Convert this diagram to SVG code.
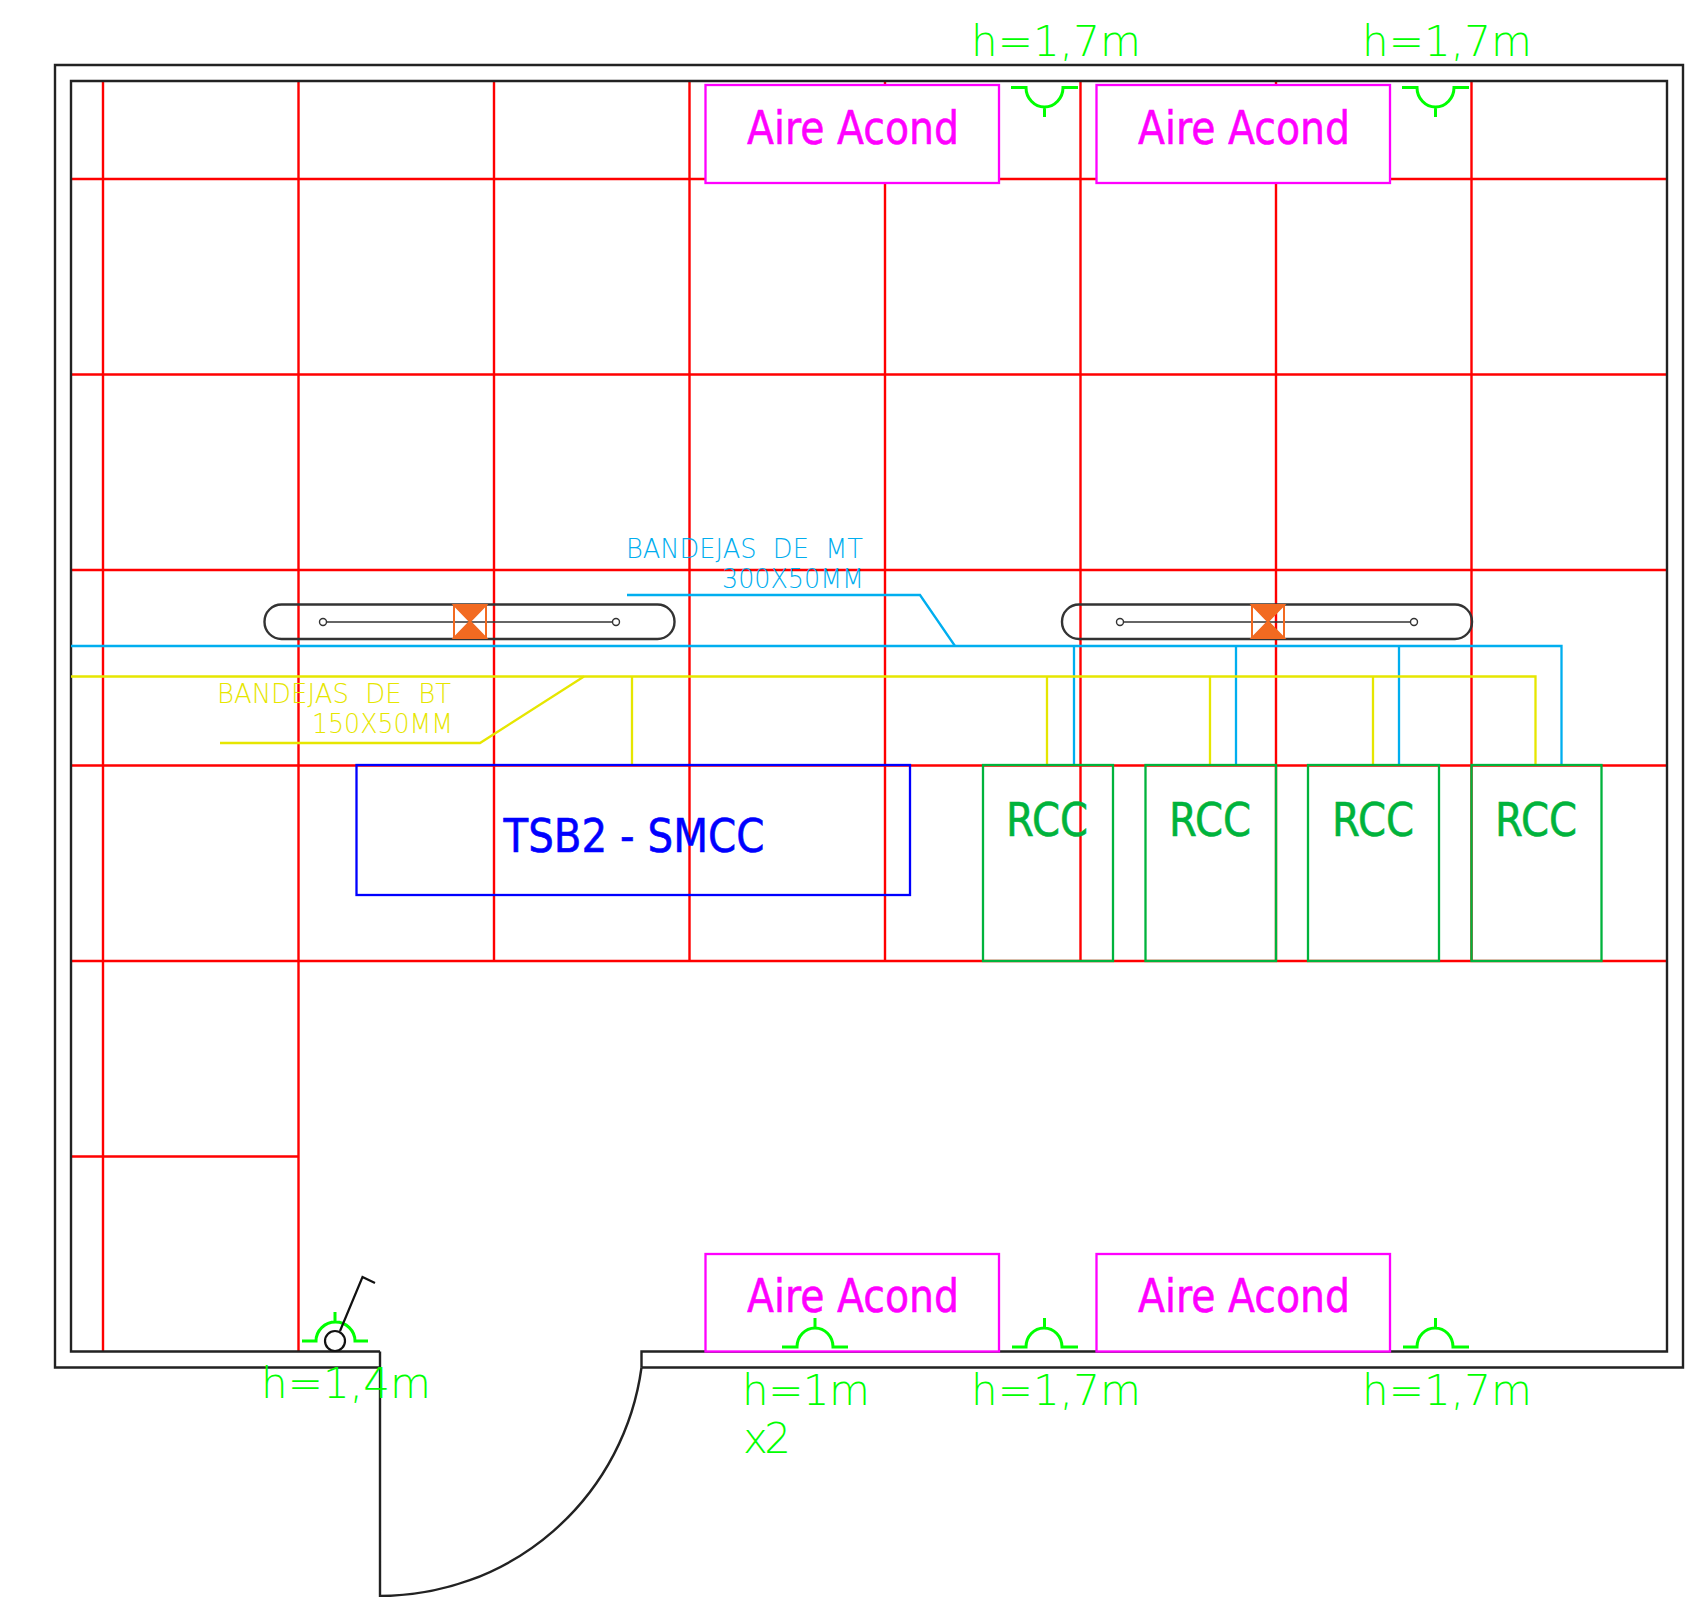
<svg xmlns="http://www.w3.org/2000/svg" width="1699" height="1597" viewBox="0 0 1699 1597">
<style>
.wall{fill:none;stroke:#222;stroke-width:2.4}
.grid{fill:none;stroke:#ff0000;stroke-width:2.4}
.mt{fill:none;stroke:#00aeef;stroke-width:2.300}
.bt{fill:none;stroke:#e6e600;stroke-width:2.300}
.ac{fill:#fff;stroke:#ff00ff;stroke-width:2.300}
.rcc{fill:none;stroke:#00b33c;stroke-width:2.300}
.sock{fill:none;stroke:#00ff00;stroke-width:3}
.pill{fill:none;stroke:#333;stroke-width:2.400}
.thin{fill:#fff;stroke:#333;stroke-width:1.400}
.orange{fill:#f26a21;stroke:#f26a21;stroke-width:2}
.big{font-family:"DejaVu Sans","Liberation Sans",sans-serif;font-size:47px;text-anchor:middle;stroke-width:.6}
.mag{fill:#ff00ff;stroke:#ff00ff}
.grn{fill:#00b33c;stroke:#00b33c}
.blu{fill:#0000ff;stroke:#0000ff}
.h{font-family:"DejaVu Sans","Liberation Sans",sans-serif;font-weight:200;font-size:42px;fill:#00ff00}
.lab{font-family:"DejaVu Sans","Liberation Sans",sans-serif;font-weight:200;font-size:26px;white-space:pre}
</style>
<g id="grid">
<path class="grid" d="M103 81V1351M298.500 81V1351M494 81V961M689.500 81V961M885 81V961M1080.500 81V961M1276 81V961M1471.500 81V961"/>
<path class="grid" d="M71 179H1667M71 374.500H1667M71 570H1667M71 765.500H1667M71 961H1667M71 1156.500H298.500"/>
</g>
<g id="walls">
<path class="wall" d="M380 1367.500H55V65H1683V1367.500H641.500"/>
<path class="wall" d="M380 1351.500H71V81H1667V1351.500H641.500V1367.500"/>
<path class="wall" d="M380 1351.500V1596A264 264 0 0 0 641.500 1367.500"/>
</g>
<g id="light-left">
<rect class="pill" x="264.500" y="604.500" width="410" height="34.500" rx="17"/>
<path class="pill" style="stroke-width:1.400" d="M323 622H616"/>
<circle class="thin" cx="323" cy="622" r="3.500"/><circle class="thin" cx="616" cy="622" r="3.500"/>
<rect x="454" y="605" width="32" height="33" fill="none" stroke="#f26a21" stroke-width="2"/>
<path class="orange" d="M454 605H486L454 638H486Z"/>
</g>
<g id="light-right">
<rect class="pill" x="1062" y="604.500" width="410" height="34.500" rx="17"/>
<path class="pill" style="stroke-width:1.400" d="M1120 622H1414"/>
<circle class="thin" cx="1120" cy="622" r="3.500"/><circle class="thin" cx="1414" cy="622" r="3.500"/>
<rect x="1252" y="605" width="32" height="33" fill="none" stroke="#f26a21" stroke-width="2"/>
<path class="orange" d="M1252 605H1284L1252 638H1284Z"/>
</g>
<g id="connectors">
<path class="mt" d="M71 646H1561.500V765M1074 646V765M1236 646V765M1399 646V765"/>
<path class="mt" d="M627 595H920L955 646"/>
<path class="bt" d="M71 676.500H1535.500V765M632 676.500V765M1047 676.500V765M1210 676.500V765M1373 676.500V765"/>
<path class="bt" d="M220 743H480L584 676.500"/>
</g>
<g id="tsb2">
<rect x="356.500" y="765" width="553.500" height="130" fill="none" stroke="#0000ff" stroke-width="2.300"/>
<text class="big blu" x="634" y="852" textLength="261" lengthAdjust="spacingAndGlyphs">TSB2 - SMCC</text>
</g>
<g id="rcc1"><rect class="rcc" x="983" y="765" width="130" height="196"/><text class="big grn" x="1047" y="836" textLength="82" lengthAdjust="spacingAndGlyphs">RCC</text></g>
<g id="rcc2"><rect class="rcc" x="1145.500" y="765" width="130.500" height="196"/><text class="big grn" x="1210" y="836" textLength="82" lengthAdjust="spacingAndGlyphs">RCC</text></g>
<g id="rcc3"><rect class="rcc" x="1308" y="765" width="131" height="196"/><text class="big grn" x="1373" y="836" textLength="82" lengthAdjust="spacingAndGlyphs">RCC</text></g>
<g id="rcc4"><rect class="rcc" x="1471.500" y="765" width="130" height="196"/><text class="big grn" x="1536" y="836" textLength="82" lengthAdjust="spacingAndGlyphs">RCC</text></g>
<g id="ac1"><rect class="ac" x="705.500" y="85" width="293.500" height="98"/><text class="big mag" x="853" y="143.500" textLength="212" lengthAdjust="spacingAndGlyphs">Aire Acond</text></g>
<g id="ac2"><rect class="ac" x="1096.500" y="85" width="293.500" height="98"/><text class="big mag" x="1244" y="143.500" textLength="212" lengthAdjust="spacingAndGlyphs">Aire Acond</text></g>
<g id="ac3"><rect class="ac" x="705.500" y="1254" width="293.500" height="97.500"/><text class="big mag" x="853" y="1312" textLength="212" lengthAdjust="spacingAndGlyphs">Aire Acond</text></g>
<g id="ac4"><rect class="ac" x="1096.500" y="1254" width="293.500" height="97.500"/><text class="big mag" x="1244" y="1312" textLength="212" lengthAdjust="spacingAndGlyphs">Aire Acond</text></g>
<g id="socket-top1"><path class="sock" d="M1011 87.500H1026A18 19 0 0 0 1063 87.500H1078M1044.500 106.500V117"/><text class="h" x="971" y="55.500" textLength="170" lengthAdjust="spacing">h=1,7m</text></g>
<g id="socket-top2"><path class="sock" d="M1402 87.500H1417A18 19 0 0 0 1454 87.500H1469M1435.500 106.500V117"/><text class="h" x="1362" y="55.500" textLength="170" lengthAdjust="spacing">h=1,7m</text></g>
<g id="socket-b1"><path class="sock" d="M782 1347H797A18 19 0 0 1 833 1347H848M815 1328V1318"/><text class="h" x="742" y="1405" textLength="128" lengthAdjust="spacing">h=1m</text><text class="h" x="743" y="1453" textLength="48" lengthAdjust="spacing">x2</text></g>
<g id="socket-b2"><path class="sock" d="M1012 1347H1026A18 19 0 0 1 1062 1347H1078M1044.500 1328V1318"/><text class="h" x="971" y="1405" textLength="170" lengthAdjust="spacing">h=1,7m</text></g>
<g id="socket-b3"><path class="sock" d="M1403 1347H1417A18 19 0 0 1 1453 1347H1469M1435.500 1328V1318"/><text class="h" x="1362" y="1405" textLength="170" lengthAdjust="spacing">h=1,7m</text></g>
<g id="switch">
<path class="sock" d="M302 1341H316A19.500 19 0 0 1 355 1341H368M335 1322V1312"/>
<circle cx="335" cy="1341" r="10" fill="none" stroke="#111" stroke-width="2.200"/>
<path fill="none" stroke="#111" stroke-width="2.200" d="M340 1331L362.500 1277L375 1283"/>
<text class="h" x="261" y="1398" textLength="170" lengthAdjust="spacing">h=1,4m</text>
</g>
<text class="lab" x="626" y="558" fill="#00aeef" textLength="237" lengthAdjust="spacingAndGlyphs" xml:space="preserve">BANDEJAS  DE  MT</text>
<text class="lab" x="722" y="588" fill="#00aeef" textLength="142" lengthAdjust="spacingAndGlyphs">300X50MM</text>
<text class="lab" x="217" y="703" fill="#e6e600" textLength="234" lengthAdjust="spacingAndGlyphs" xml:space="preserve">BANDEJAS  DE  BT</text>
<text class="lab" x="312" y="733" fill="#e6e600" textLength="141" lengthAdjust="spacingAndGlyphs">150X50MM</text>
</svg>
